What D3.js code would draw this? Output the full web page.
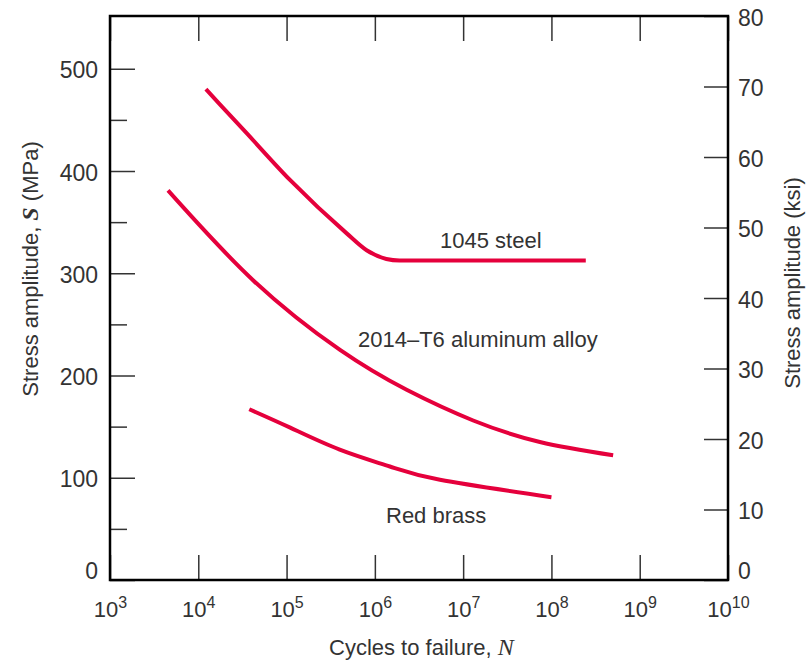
<!DOCTYPE html>
<html>
<head>
<meta charset="utf-8">
<script src="https://cdnjs.cloudflare.com/ajax/libs/d3/7.8.5/d3.min.js"></script>
<style>
  body { margin: 0; background: #fff; }
  svg text { font-family: "Liberation Sans", Arial, sans-serif; fill: #333; }
</style>
</head>
<body>
<svg id="chart" width="812" height="660"></svg>
<script>
// S-N curves, cycles to failure vs stress amplitude (MPa)
var steelN = [1.22e4, 3.53e4, 1.1e5, 4.8e5, 8.07e5, 1.35e6, 1.9e6, 2.45e8];
var steelS = [480, 437, 391, 339, 322.5, 314, 312.5, 312.5];

var aluN = [4.54e3, 4.2e4, 4.03e5, 2.29e6, 1.3e7, 7.4e7, 5.0e8];
var aluS = [381, 293, 225, 186, 156, 135, 122];

var brassN = [3.78e4, 1.1e5, 4.0e5, 1.48e6, 5.46e6, 1.0e8];
var brassS = [167, 149, 127.5, 111, 98, 81];

var decades = [1e3, 1e4, 1e5, 1e6, 1e7, 1e8, 1e9, 1e10];
var mpaTicks = [0, 100, 200, 300, 400, 500];
var mpaMinor = [50, 150, 250, 350, 450];
var ksiTicks = [0, 10, 20, 30, 40, 50, 60, 70, 80];

var KSI = 6.895; // MPa per ksi
var plotL = 110, plotR = 728, plotT = 16, plotB = 580;
var red = "#e5003c";

var svg = d3.select("#chart");

var x = d3.scaleLog().domain([1e3, 1e10]).range([plotL, plotR]);
var yL = d3.scaleLinear().domain([0, 80 * KSI]).range([plotB, plotT]);
var yR = d3.scaleLinear().domain([0, 80]).range([plotB, plotT]);

function styleTicks(g) {
    g.select(".domain").remove();
    g.selectAll(".tick line").attr("stroke", "#333").attr("stroke-width", 1.5);
}

// bottom axis with 10^n labels
var xb = svg.append("g")
    .attr("transform", "translate(0," + plotB + ")")
    .call(d3.axisBottom(x).tickValues(decades).tickSize(-25).tickSizeOuter(0).tickFormat(""));
styleTicks(xb);
xb.selectAll(".tick text").remove();
xb.selectAll(".tick").append("text")
    .attr("y", 37)
    .attr("text-anchor", "middle")
    .attr("font-size", "22px")
    .each(function(d) {
        var t = d3.select(this);
        t.append("tspan").text("10");
        t.append("tspan").attr("font-size", "16px").attr("dy", -9).text(Math.round(Math.log10(d)));
    });

var xt = svg.append("g")
    .attr("transform", "translate(0," + plotT + ")")
    .call(d3.axisTop(x).tickValues(decades).tickSize(-25).tickSizeOuter(0).tickFormat(""));
styleTicks(xt);

// left axis (MPa)
var yl = svg.append("g")
    .attr("transform", "translate(" + plotL + ",0)")
    .call(d3.axisLeft(yL).tickValues(mpaTicks).tickSize(-25).tickPadding(12));
styleTicks(yl);
yl.selectAll(".tick text")
    .attr("font-size", "23px")
    .attr("dy", function(d) { return d === 0 ? "-0.05em" : "0.4em"; });

var ylm = svg.append("g")
    .attr("transform", "translate(" + plotL + ",0)")
    .call(d3.axisLeft(yL).tickValues(mpaMinor).tickSize(-17).tickFormat(""));
styleTicks(ylm);

// right axis (ksi)
var yr = svg.append("g")
    .attr("transform", "translate(" + plotR + ",0)")
    .call(d3.axisRight(yR).tickValues(ksiTicks).tickSize(-24).tickPadding(10));
styleTicks(yr);
yr.selectAll(".tick text")
    .attr("font-size", "23px")
    .attr("text-anchor", "start")
    .attr("dy", function(d) { return d === 0 ? "-0.05em" : "0.4em"; });

// frame
svg.append("rect")
    .attr("x", plotL).attr("y", plotT)
    .attr("width", plotR - plotL).attr("height", plotB - plotT)
    .attr("fill", "none").attr("stroke", "#000").attr("stroke-width", 2.5);

// curves: steel keeps its knee + flat run, the others are smooth splines
function lineWith(curve) {
    return d3.line()
        .x(function(d) { return x(d[0]); })
        .y(function(d) { return yL(d[1]); })
        .curve(curve);
}

[[steelN, steelS, d3.curveMonotoneX], [aluN, aluS, d3.curveNatural], [brassN, brassS, d3.curveNatural]].forEach(function(s) {
    svg.append("path")
        .datum(d3.zip(s[0], s[1]))
        .attr("d", lineWith(s[2]))
        .attr("fill", "none")
        .attr("stroke", red)
        .attr("stroke-width", 4);
});

// curve labels
svg.append("text").attr("x", 440).attr("y", 248).attr("font-size", "22px").text("1045 steel");
svg.append("text").attr("x", 358).attr("y", 347).attr("font-size", "22px").text("2014\u2013T6 aluminum alloy");
svg.append("text").attr("x", 386).attr("y", 523).attr("font-size", "22px").text("Red brass");

// axis titles
var xt2 = svg.append("text").attr("x", 329).attr("y", 655).attr("font-size", "22px");
xt2.append("tspan").text("Cycles to failure, ");
xt2.append("tspan").attr("font-family", "'Liberation Serif', serif").attr("font-style", "italic").attr("font-size", "24px").text("N");

var ytl = svg.append("text")
    .attr("transform", "translate(38,269) rotate(-90)")
    .attr("text-anchor", "middle")
    .attr("font-size", "22px");
ytl.append("tspan").text("Stress amplitude, ");
ytl.append("tspan").attr("font-family", "'Liberation Serif', serif").attr("font-style", "italic").attr("font-weight", "bold").attr("font-size", "24px").text("S");
ytl.append("tspan").text(" (MPa)");

svg.append("text")
    .attr("transform", "translate(800,283) rotate(-90)")
    .attr("text-anchor", "middle")
    .attr("font-size", "22px")
    .text("Stress amplitude (ksi)");
</script>
</body>
</html>
